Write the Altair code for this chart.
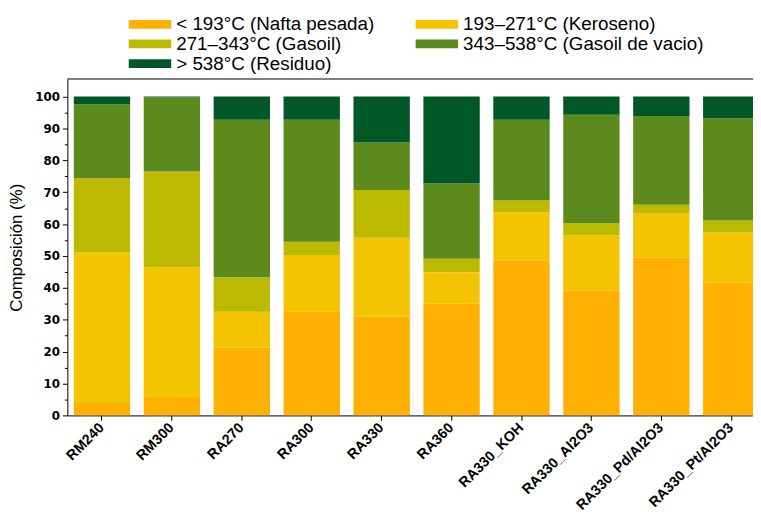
import altair as alt
import pandas as pd

samples = ["RM240", "RM300", "RA270", "RA300", "RA330", "RA360",
           "RA330_KOH", "RA330_Al2O3", "RA330_Pd/Al2O3", "RA330_Pt/Al2O3"]
fractions = ["< 193°C (Nafta pesada)", "193–271°C (Keroseno)",
             "271–343°C (Gasoil)", "343–538°C (Gasoil de vacio)",
             "> 538°C (Residuo)"]
colors = ["#FFB000", "#F5C400", "#BBB900", "#5C8A1C", "#005826"]
# legend is filled column by column: order entries so rows read as in the figure
legend_order = [0, 2, 4, 1, 3]

nafta = [3.9, 5.8, 21.2, 32.5, 31.0, 35.0, 48.7, 39.1, 49.5, 41.6]
keroseno = [47.2, 40.7, 11.3, 17.8, 24.7, 9.9, 15.0, 17.4, 13.8, 15.8]
gasoil = [23.3, 30.0, 10.8, 4.2, 15.0, 4.2, 3.7, 3.8, 2.8, 3.7]
gasoil_vacio = [23.2, 23.2, 49.4, 38.2, 14.9, 23.7, 25.3, 34.0, 27.8, 32.0]
residuo = [2.4, 0.3, 7.3, 7.3, 14.4, 27.2, 7.3, 5.7, 6.1, 6.9]

y_ticks = [0, 5, 10, 15, 20, 25, 30, 35, 40, 45, 50, 55, 60, 65, 70, 75, 80, 85, 90, 95, 100]

series = [nafta, keroseno, gasoil, gasoil_vacio, residuo]
rows = []
for k, (name, vals) in enumerate(zip(fractions, series)):
    for s, v in zip(samples, vals):
        rows.append({"Muestra": s, "Fraccion": name, "Valor": v, "orden": k})
df = pd.DataFrame(rows)

dom = [fractions[i] for i in legend_order]
rng = [colors[i] for i in legend_order]

bars = alt.Chart(df).mark_bar(clip=True, strokeWidth=0).encode(
    x=alt.X("Muestra:N", sort=samples, title=None,
            scale=alt.Scale(range=[0, 706], paddingInner=0.194, paddingOuter=0.092),
            axis=alt.Axis(labelAngle=-45, labelAlign="right", labelBaseline="middle",
                          labelFont="Liberation Sans", labelFontWeight="bold", labelFontSize=14.5,
                          labelColor="black", labelPadding=5, tickSize=5, tickColor="black",
                          domainColor="black", labelOverlap=False)),
    y=alt.Y("Valor:Q", stack="zero", title="Composición (%)",
            scale=alt.Scale(domain=[0, 105.5], nice=False),
            axis=alt.Axis(values=y_ticks,
                          labelExpr="datum.value % 10 == 0 ? datum.label : ''",
                          tickSize={"condition": {"test": "datum.value % 10 == 0", "value": 5}, "value": 3},
                          labelFont="DejaVu Sans", labelFontWeight="bold", labelFontSize=12,
                          labelColor="black", labelPadding=3, tickColor="black",
                          domainColor="black", grid=False,
                          titleFont="Liberation Sans", titleFontSize=17, titleFontWeight="normal",
                          titleColor="black", titlePadding=9)),
    color=alt.Color("Fraccion:N", sort=dom,
                    scale=alt.Scale(domain=dom, range=rng),
                    legend=alt.Legend(title=None, orient="none", legendX=74, legendY=-65,
                                      columns=2, columnPadding=41, rowPadding=0,
                                      symbolType="M-2.26,-0.47H2.26V0.47H-2.26Z", symbolSize=361,
                                      symbolStrokeWidth=0, symbolOpacity=1,
                                      labelFont="Liberation Sans", labelFontSize=19,
                                      labelColor="black", labelOffset=17, labelLimit=400,
                                      padding=0)),
    order=alt.Order("orden:Q", sort="ascending"),
)

frame = alt.Chart(pd.DataFrame({"a": [0]})).mark_rule(color="black", strokeWidth=1.2).encode(
    y=alt.value(0), x=alt.value(0), x2=alt.value(693)
)

chart = alt.layer(bars, frame).properties(
    width=693, height=340,
    autosize=alt.AutoSizeParams(type="none"),
    padding={"left": 60, "top": 69, "right": 0, "bottom": 109},
).configure_view(stroke=None)

chart.save("out.html", embed_options={"renderer": "svg", "actions": False})
